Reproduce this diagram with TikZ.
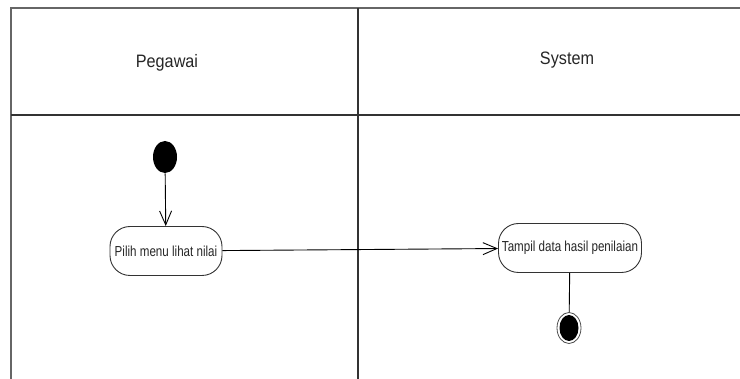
\documentclass[tikz,border=0pt]{standalone}
\usepackage{fontspec}
\setmainfont{Liberation Sans}
\newfontfamily\lanefont[FakeStretch=0.9]{Liberation Sans}
\newfontfamily\actfont[FakeStretch=0.8]{Liberation Sans}
\usetikzlibrary{positioning, arrows.meta, shapes.geometric}

\begin{document}
\begin{tikzpicture}
        [x=1pt, y=-1pt,
         lane/.style={draw=black!60, line width=1.2pt},
         lanetitle/.style={font=\lanefont\fontsize{18}{20}\selectfont, text=black!85},
         action/.style={draw=black!80, line width=0.9pt, rectangle, rounded corners=20pt,
                        minimum height=49pt, inner sep=2pt,
                        font=\actfont\fontsize{14.5}{16}\selectfont, text=black!85},
         start/.style={ellipse, fill=black, minimum width=24pt, minimum height=32pt, inner sep=0pt},
         endout/.style={ellipse, draw=black!70, fill=white, line width=0.8pt,
                        minimum width=24pt, minimum height=31pt, inner sep=0pt},
         endin/.style={ellipse, fill=black, minimum width=19pt, minimum height=26pt, inner sep=0pt},
         >={Straight Barb[length=14pt, width=12pt]}, line width=0.9pt]
        \useasboundingbox (0,0) rectangle (740,379);

        % swimlanes
        \draw[lane] (740,8) -- (11,8) -- (11,379);
        \draw[lane, draw=black!80] (358,8) -- (358,379);
        \draw[lane, draw=black!80] (11,115) -- (740,115);
        \node[lanetitle] (pegawai) at (167,63) {Pegawai};
        \node[lanetitle] (system) at (567,60) {System};

        \node[start] (init) at (165,157) {};
        \node[action, minimum width=112pt] (pilih) at (166,251) {Pilih menu lihat nilai};
        \node[action, minimum width=143pt] (tampil) at (570,248) {Tampil data hasil penilaian};
        \node[endout] (fin) at (569,328) {};
        \node[endin] (finin) at (fin) {};

        \path [->] (init) edge (pilih);
        \path [->] (pilih) edge (tampil);
        \path (tampil) edge (fin);
    \end{tikzpicture}
\end{document}
